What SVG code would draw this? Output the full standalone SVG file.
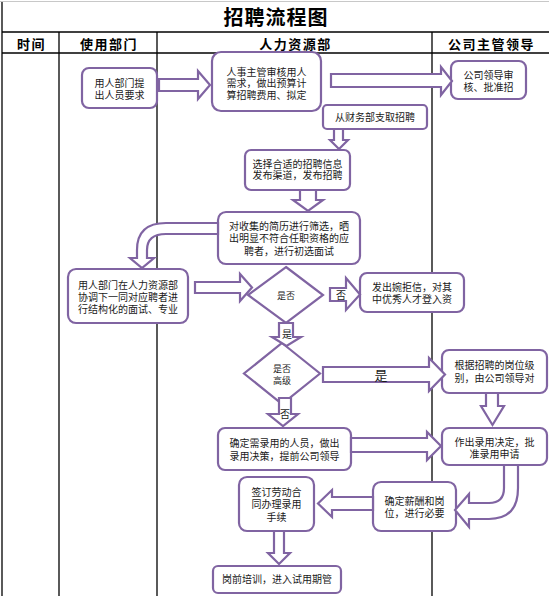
<svg xmlns="http://www.w3.org/2000/svg" width="549" height="596" viewBox="0 0 549 596">
<style>
.grid{stroke:#000;stroke-width:1.3;fill:none}
.box{fill:#fff;stroke:#8064A2;stroke-width:2.2}
.arr{fill:#fff;stroke:#8064A2;stroke-width:2.2;stroke-linejoin:miter}
.t{font-family:"Noto Sans CJK SC",sans-serif;font-size:10px;fill:#1a1a1a;text-anchor:middle}
.h{font-family:"Noto Sans CJK SC",sans-serif;font-weight:bold;font-size:13px;letter-spacing:1.5px;text-anchor:middle;fill:#000}
.ttl{font-family:"Noto Sans CJK SC",sans-serif;font-weight:bold;font-size:20px;letter-spacing:1px;text-anchor:middle;fill:#000}
</style>
<rect x="0" y="0" width="549" height="596" fill="#fff"/>
<g id="table">
<line x1="0" y1="1.5" x2="549" y2="1.5" stroke="#c8c8c8" stroke-width="1"/>
<line class="grid" x1="2" y1="2" x2="2" y2="596"/>
<line class="grid" x1="2" y1="32" x2="549" y2="32"/>
<line class="grid" x1="2" y1="53" x2="549" y2="53"/>
<line class="grid" x1="59" y1="32" x2="59" y2="596"/>
<line class="grid" x1="157" y1="32" x2="157" y2="596"/>
<line class="grid" x1="432" y1="32" x2="432" y2="596"/>
<text class="ttl" x="276" y="25">招聘流程图</text>
<text class="h" x="31.5" y="49">时间</text>
<text class="h" x="109" y="49">使用部门</text>
<text class="h" x="295.5" y="49">人力资源部</text>
<text class="h" x="491.5" y="49">公司主管领导</text>
</g>
<g id="n1"><rect class="box" x="82" y="68" width="75" height="40" rx="7"/><text class="t" x="119.5" y="86.5">用人部门提</text><text class="t" x="119.5" y="98.5">出人员要求</text></g>
<g id="n2"><rect class="box" x="212" y="52" width="109" height="59" rx="9"/><text class="t" x="266.5" y="75.5">人事主管审核用人</text><text class="t" x="266.5" y="87">需求，做出预算计</text><text class="t" x="266.5" y="98.5">算招聘费用、拟定</text></g>
<g id="n3"><rect class="box" x="451" y="61" width="75" height="38" rx="7"/><text class="t" x="488.5" y="78.5">公司领导审</text><text class="t" x="488.5" y="90.5">核、批准招</text></g>
<g id="n4"><rect class="box" x="323" y="105" width="104" height="24" rx="4"/><text class="t" x="375" y="120.5">从财务部支取招聘</text></g>
<g id="n5"><rect class="box" x="245" y="150" width="105" height="40" rx="6"/><text class="t" x="297.5" y="167.5">选择合适的招聘信息</text><text class="t" x="297.5" y="179">发布渠道，发布招聘</text></g>
<g id="n6"><rect class="box" x="218" y="212" width="142" height="52" rx="8"/><text class="t" x="289" y="229.5">对收集的简历进行筛选，晒</text><text class="t" x="289" y="241.5">出明显不符合任职资格的应</text><text class="t" x="289" y="254.5">聘者，进行初选面试</text></g>
<g id="n7"><rect class="box" x="68" y="269" width="120" height="54" rx="8"/><text class="t" x="128" y="288.5">用人部门在人力资源部</text><text class="t" x="128" y="300.5">协调下一同对应聘者进</text><text class="t" x="128" y="312.5">行结构化的面试、专业</text></g>
<g id="d1"><polygon class="box" points="286,267 323,295 286,323 248,295"/><text class="t" x="286" y="298.5" style="font-size:9px">是否</text></g>
<g id="n8"><rect class="box" x="360" y="273" width="104" height="39" rx="7"/><text class="t" x="412" y="290.5">发出婉拒信，对其</text><text class="t" x="412" y="302.5">中优秀人才登入资</text></g>
<g id="d2"><polygon class="box" points="282,343 320,373.5 282,404 244,373.5"/><text class="t" x="282" y="371.5" style="font-size:9px">是否</text><text class="t" x="282" y="383.5" style="font-size:9px">高级</text></g>
<g id="n9"><rect class="box" x="442" y="350" width="105" height="43" rx="7"/><text class="t" x="494.5" y="368.5">根据招聘的岗位级</text><text class="t" x="494.5" y="381.5">别，由公司领导对</text></g>
<g id="n10"><rect class="box" x="218" y="428" width="133" height="42" rx="7"/><text class="t" x="284.5" y="446.5">确定需录用的人员，做出</text><text class="t" x="284.5" y="459.5">录用决策，提前公司领导</text></g>
<g id="n11"><rect class="box" x="442" y="428" width="105" height="37" rx="7"/><text class="t" x="494.5" y="445.5">作出录用决定，批</text><text class="t" x="494.5" y="457.5">准录用申请</text></g>
<g id="n12"><rect class="box" x="373" y="482" width="83" height="49" rx="8"/><text class="t" x="414.5" y="504.5">确定薪酬和岗</text><text class="t" x="414.5" y="516.5">位，进行必要</text></g>
<g id="n13"><rect class="box" x="239" y="477" width="75" height="54" rx="8"/><text class="t" x="276.5" y="495.5">签订劳动合</text><text class="t" x="276.5" y="507.5">同办理录用</text><text class="t" x="276.5" y="520.5">手续</text></g>
<g id="n14"><rect class="box" x="213" y="566" width="128" height="27" rx="5"/><text class="t" x="277" y="583">岗前培训，进入试用期管</text></g>
<g id="connectors">
<polygon class="arr" points="159,79 198,79 198,71 210,85 198,99 198,91 159,91"/>
<polygon class="arr" points="331,74 441,74 441,67 452,81 441,95 441,87 331,87"/>
<polygon class="arr" points="334,129 343,129 343,140 348,140 339,149 330,140 334,140"/>
<polygon class="arr" points="300,190 316,190 316,200 323,200 308,211 293,200 300,200"/>
<path class="arr" d="M218,223 H166 Q137,223 137,250 V258 H130 L142,268 L154,258 H147 V250 Q147,234 166,234 H218 Z"/>
<polygon class="arr" points="195,282 240,282 240,274 252,287.5 240,301 240,293 195,293"/>
<polygon class="arr" points="330,288 346,288 346,278 360,294.5 346,310 346,301 330,301"/>
<text class="t" x="341" y="298.5">否</text>
<polygon class="arr" points="279,323 293,323 293,337 301,337 286.5,346 272,337 279,337"/>
<text class="t" x="287" y="338">是</text>
<polygon class="arr" points="323,367 429,367 429,358 445,374.5 429,391 429,382 323,382"/>
<text class="t" x="381" y="379.5" style="font-size:13px">是</text>
<polygon class="arr" points="279,398 291,398 291,414 298,414 283,426 268,414 279,414"/>
<text class="t" x="285" y="418">否</text>
<polygon class="arr" points="486,393 498,393 498,406 504,406 492.5,425 481,406 486,406"/>
<polygon class="arr" points="351,438 427,438 427,432 441,446 427,460 427,452 351,452"/>
<path class="arr" d="M504,465 V488 Q504,503 489,503 H469 V494 L455,510 L469,527 V519 H489 Q518,519 518,488 V465 Z"/>
<polygon class="arr" points="373,497 332,497 332,490 318,503.5 332,517 332,510 373,510"/>
<polygon class="arr" points="274,531 284,531 284,553 290,553 279,564 268,553 274,553"/>
</g>
</svg>
